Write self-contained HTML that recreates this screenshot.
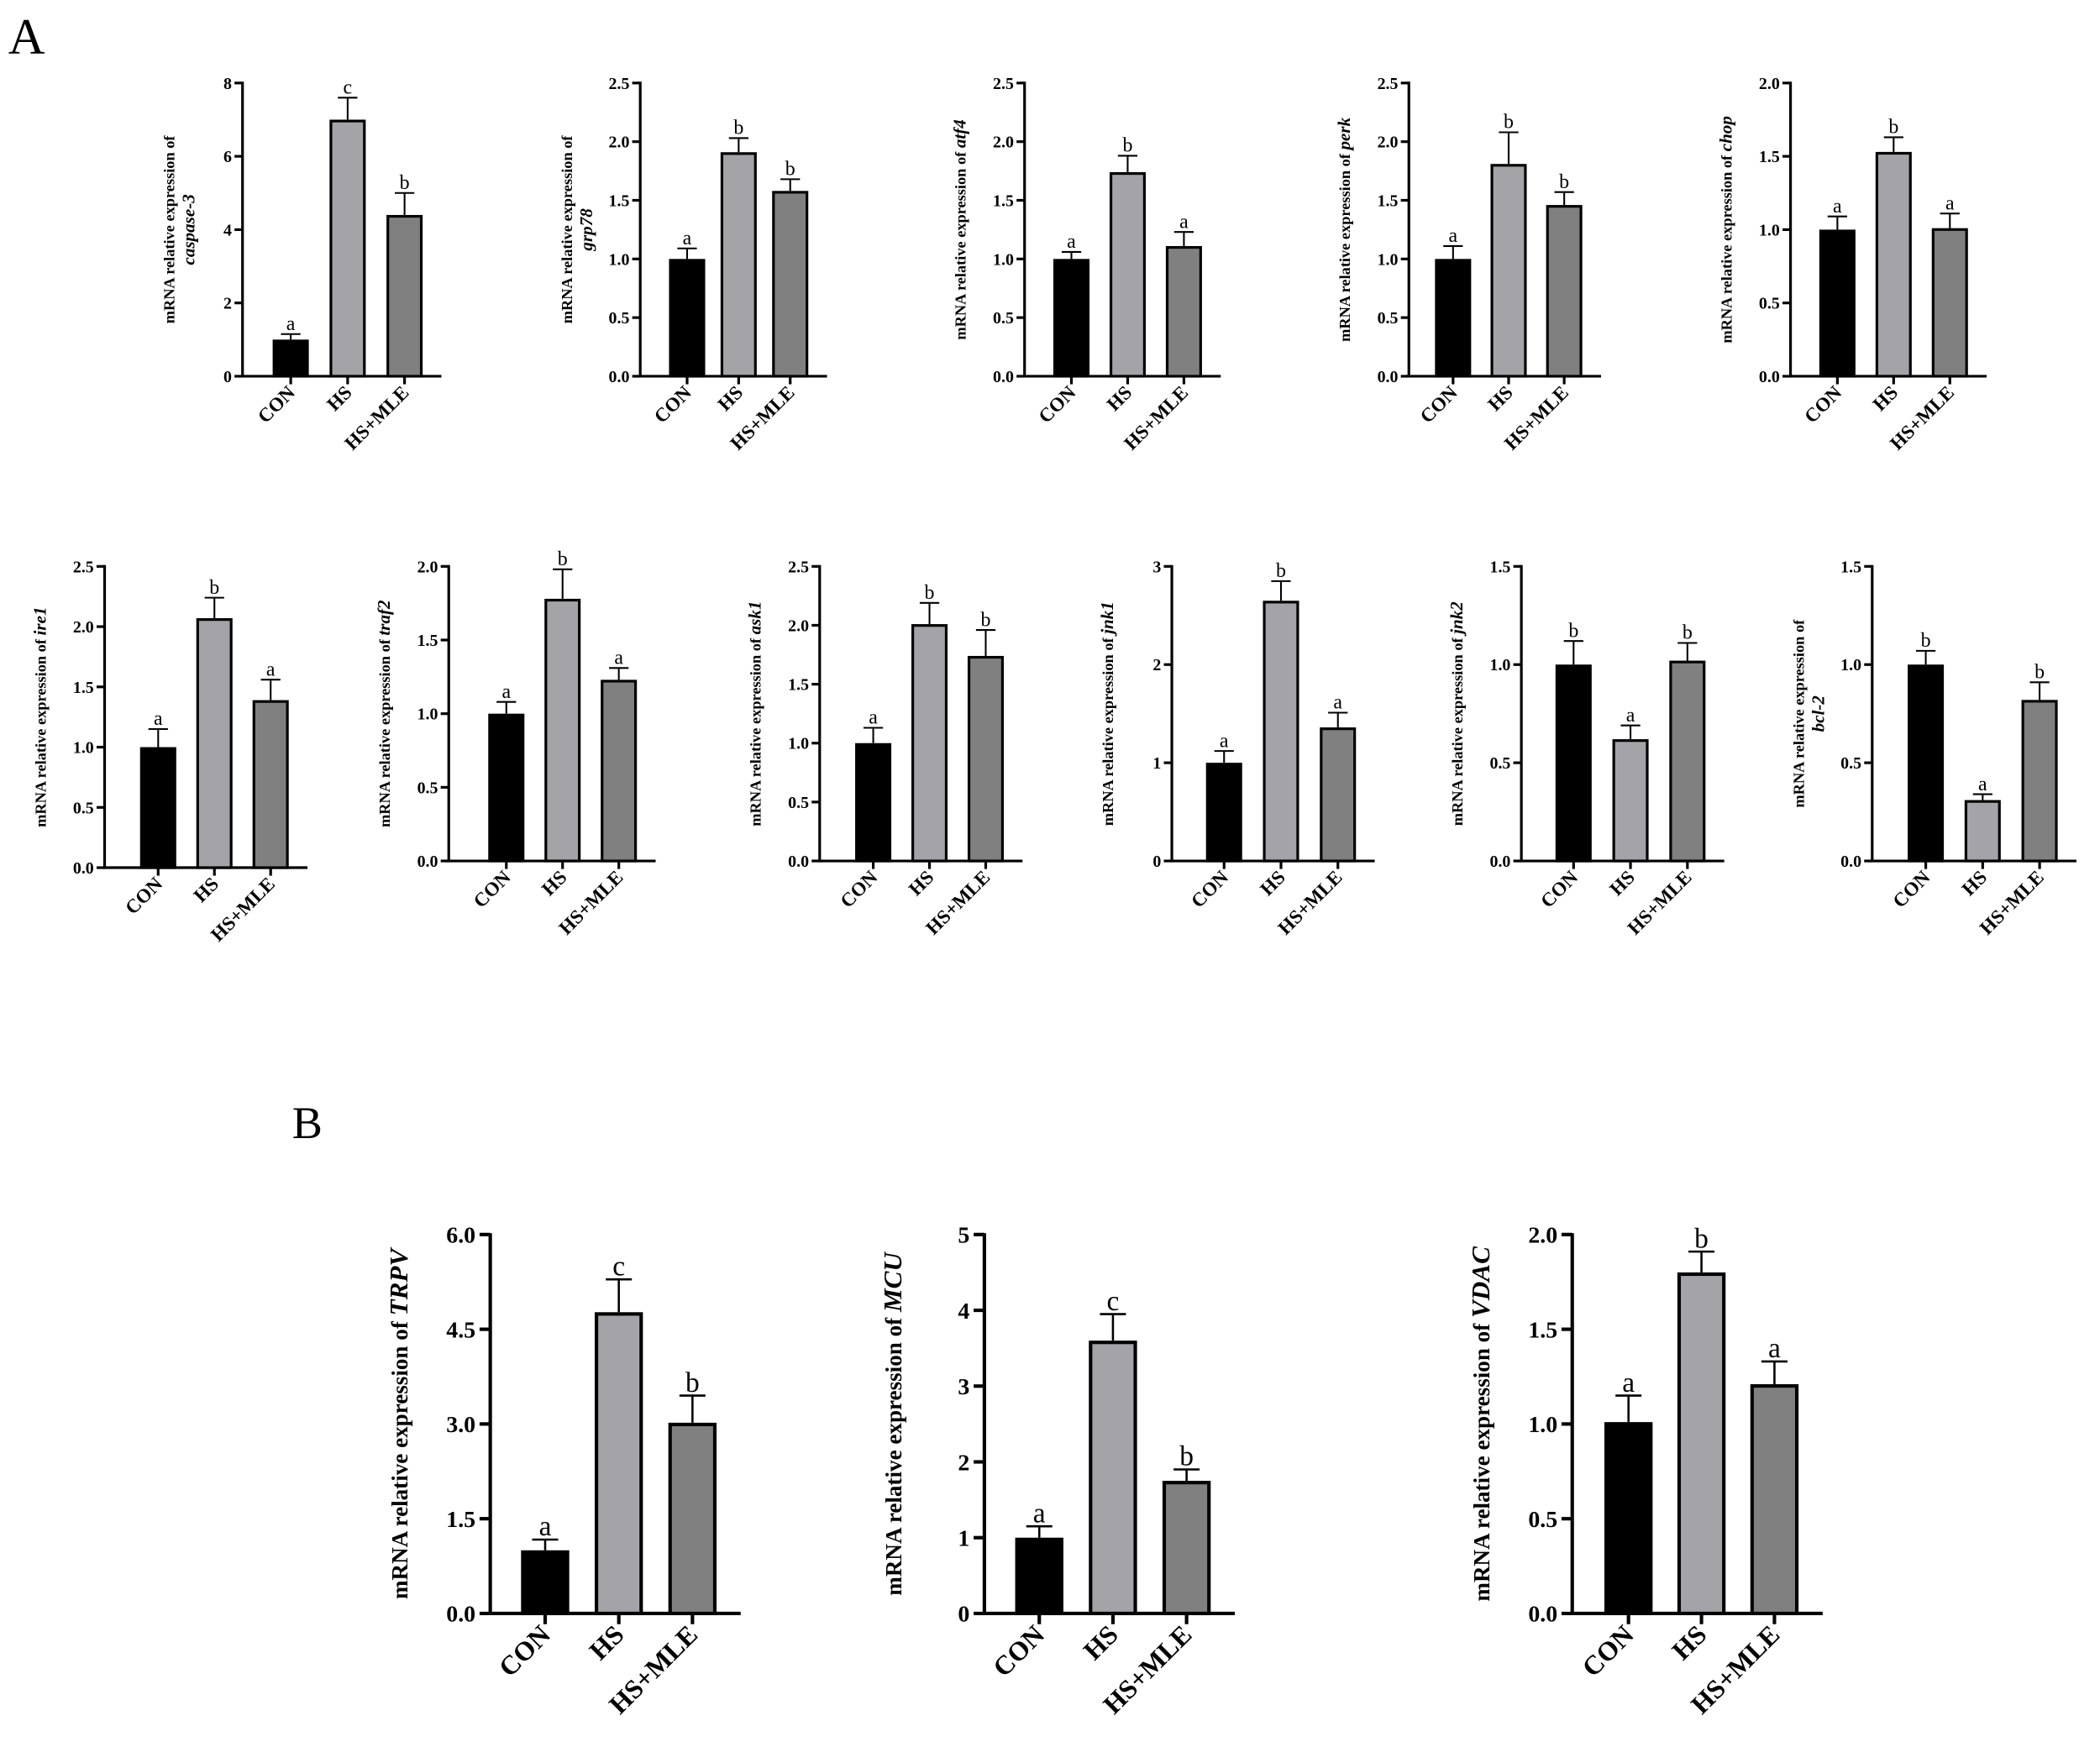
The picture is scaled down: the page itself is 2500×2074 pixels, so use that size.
<!DOCTYPE html>
<html><head><meta charset="utf-8"><style>
html,body{margin:0;padding:0;background:#fff}
svg{display:block}
text{font-family:"Liberation Serif",serif}
</style></head><body>
<svg id="fig" width="2500" height="2074" viewBox="0 0 1568 1301" xmlns="http://www.w3.org/2000/svg">
<text x="6" y="40" font-size="38">A</text>
<text x="218" y="850" font-size="34">B</text>
</svg>
<script>
const groups = ["CON","HS","HS+MLE"];
const genes = ["caspase-3","grp78","atf4","perk","chop","ire1","traf2","ask1","jnk1","jnk2","bcl-2","TRPV","MCU","VDAC"];
const means = [[1.0,7.0,4.4],[1.0,1.91,1.58],[1.0,1.74,1.11],[1.0,1.81,1.46],[1.0,1.53,1.01],
 [1.0,2.07,1.39],[1.0,1.78,1.23],[1.0,2.01,1.74],[1.0,2.65,1.36],[1.0,0.62,1.02],[1.0,0.31,0.82],
 [1.0,4.77,3.02],[1.0,3.6,1.75],[1.01,1.8,1.21]];
const errs = [[0.15,0.6,0.6],[0.09,0.12,0.1],[0.06,0.14,0.12],[0.11,0.27,0.11],[0.09,0.1,0.1],
 [0.15,0.17,0.17],[0.08,0.2,0.08],[0.13,0.18,0.22],[0.12,0.2,0.15],[0.12,0.07,0.09],[0.07,0.03,0.09],
 [0.17,0.52,0.43],[0.15,0.35,0.15],[0.14,0.11,0.12]];
const letters = [["a","c","b"],["a","b","b"],["a","b","a"],["a","b","b"],["a","b","a"],
 ["a","b","a"],["a","b","a"],["a","b","b"],["a","b","a"],["b","a","b"],["b","a","b"],
 ["a","c","b"],["a","c","b"],["a","b","a"]];
const yMaxes = [8,2.5,2.5,2.5,2.0,2.5,2.0,2.5,3,1.5,1.5,6,5,2.0];
const yStepsArr = [2,0.5,0.5,0.5,0.5,0.5,0.5,0.5,1,0.5,0.5,1.5,1,0.5];
const tickDec = [0,1,1,1,1,1,1,1,0,1,1,1,0,1];
// layout: axisX, top, zero, first bar center, bar spacing, bar width, font size, twoLine
const layout = [
 [181,62,281,217,42.5,27,12.5,1],[478,62,281,513,38.5,27,12.5,1],[765,62,281,800,42,27,12.5,0],
 [1052,62,281,1085,41.5,27,12.5,0],[1337,62,281,1372,42,27,12.5,0],
 [78,423,648,118,42,27,12.5,0],[335,423,643,378,42,27,12.5,0],[612,423,643,652,42,27,12.5,0],
 [875,423,643,914,42.5,27,12.5,0],[1136,423,643,1175,42.5,27,12.5,0],[1398,423,643,1438,42.5,27,12.5,1],
 [366,922,1205,407,55,36,17.5,0],[735,922,1205,776,55,36,17.5,0],[1174,922,1205,1216,54.5,36,17.5,0]];
const fills = ["#000000","#a3a3a8","#808080"];
const NS="http://www.w3.org/2000/svg";
const svg=document.getElementById('fig');
function mk(tag,attrs,parent){const e=document.createElementNS(NS,tag);for(const k in attrs)e.setAttribute(k,attrs[k]);(parent||svg).appendChild(e);return e;}
genes.forEach((g,i)=>{
  const [ax,top,zero,c0,sp,bw,fs,two]=layout[i];
  const big=fs>14;
  const lw=big?2.6:2;
  const gEl=mk('g',{});
  
  
  const y=v=>zero-(v/yMaxes[i])*(zero-top);
  const xEnd=c0+2*sp+bw/2+(big?18:14);
  const ya=mk('line',{x1:ax,y1:top-1,x2:ax,y2:zero,stroke:'#000','stroke-width':lw},gEl);
  
  
  const xa=mk('line',{x1:ax-lw/2,y1:zero,x2:xEnd,y2:zero,stroke:'#000','stroke-width':lw},gEl);
  
  
  const n=Math.round(yMaxes[i]/yStepsArr[i]);
  for(let k=0;k<=n;k++){
    const v=k*yStepsArr[i];const yy=y(v);
    mk('line',{x1:ax-(big?8:6),y1:yy,x2:ax,y2:yy,stroke:'#000','stroke-width':lw},gEl);
    const t=mk('text',{x:ax-(big?11:8),y:yy+fs*0.35,'font-size':fs,'font-weight':'bold','text-anchor':'end'},gEl);
    t.textContent=v.toFixed(tickDec[i]);
    
    
  }
  const tfs=big?17:11.5;
  const lx=ax-(big?62:44);const ly=(top+zero)/2;
  const tt=mk('text',{transform:`translate(${lx},${ly}) rotate(-90)`,'font-size':tfs,'font-weight':'bold','text-anchor':'middle'},gEl);
  
  
  if(two){
    const s1=mk('tspan',{x:0,dy:-tfs*0.6},tt);s1.textContent='mRNA relative expression of';
    const s2=mk('tspan',{x:0,dy:tfs*1.3,'font-style':'italic','font-size':tfs*1.15},tt);s2.textContent=g;
  } else {
    const s1=mk('tspan',{},tt);s1.textContent='mRNA relative expression of  ';
    const s2=mk('tspan',{'font-style':'italic','font-size':tfs*1.15},tt);s2.textContent=g;
  }
  groups.forEach((grp,j)=>{
    const cx=c0+j*sp;const m=means[i][j];const e=errs[i][j];
    const ye=y(m+e);
    const el=mk('line',{x1:cx,y1:y(m),x2:cx,y2:ye,stroke:'#000','stroke-width':big?1.6:1.3},gEl);
    
    
    mk('line',{x1:cx-bw*0.27,y1:ye,x2:cx+bw*0.27,y2:ye,stroke:'#000','stroke-width':big?1.6:1.3},gEl);
    const r=mk('rect',{x:cx-bw/2+lw/2,y:y(m)+lw/2,width:bw-lw,height:zero-y(m)-lw/2,fill:fills[j],stroke:'#000','stroke-width':lw},gEl);
    
    
    const lt=mk('text',{x:cx,y:ye-3,'font-size':big?21:15,'text-anchor':'middle'},gEl);
    lt.textContent=letters[i][j];
    
    
    mk('line',{x1:cx,y1:zero,x2:cx,y2:zero+(big?8:6),stroke:'#000','stroke-width':lw},gEl);
    const xl=mk('text',{transform:`translate(${cx+(big?5:4)},${zero+(big?17:13)}) rotate(-45)`,'font-size':big?20:14.5,'font-weight':'bold','text-anchor':'end'},gEl);
    xl.textContent=grp;
    
    
  });
});
</script>
</body></html>
